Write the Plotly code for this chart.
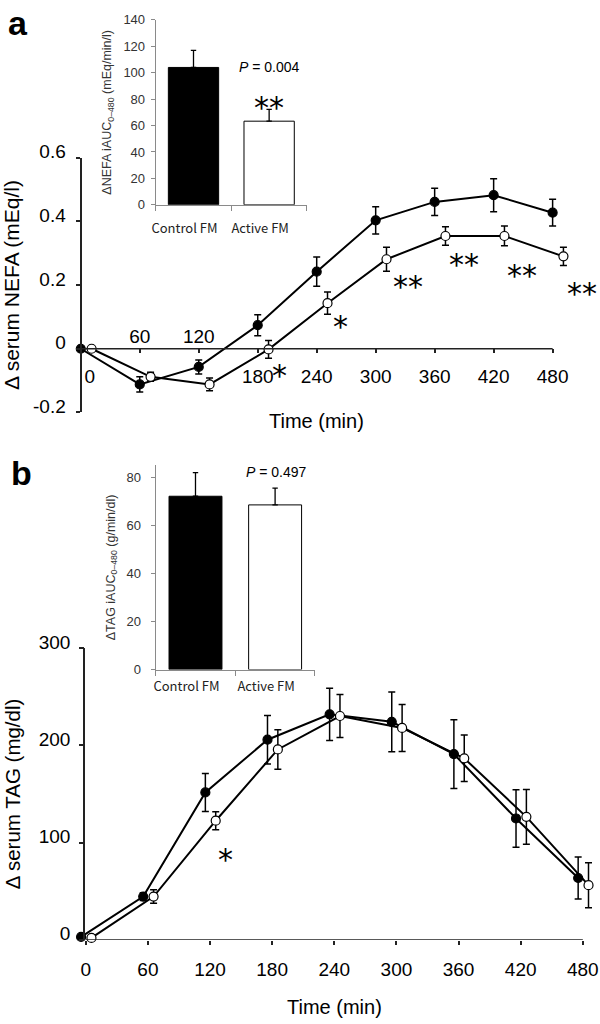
import plotly.graph_objects as go

# ---------------- data ----------------
time_min = [0, 60, 120, 180, 240, 300, 360, 420, 480]
time_labels = ["0", "60", "120", "180", "240", "300", "360", "420", "480"]

nefa_control = [0.0, -0.112, -0.057, 0.074, 0.242, 0.403, 0.461, 0.482, 0.427]
nefa_control_err = [0.0, 0.024, 0.022, 0.033, 0.046, 0.043, 0.043, 0.052, 0.042]
nefa_active = [0.0, -0.088, -0.112, -0.002, 0.143, 0.281, 0.354, 0.354, 0.290]
nefa_active_err = [0.0, 0.014, 0.020, 0.028, 0.035, 0.038, 0.029, 0.031, 0.029]

tag_control = [3, 44.5, 151.6, 205.8, 231.9, 224.2, 191.0, 124.8, 63.6]
tag_control_err = [0, 4, 19.5, 25, 26.8, 30.8, 35.3, 29.5, 21.7]
tag_active = [2, 44.5, 122.5, 195.8, 230.2, 217.9, 186.7, 126.5, 56.2]
tag_active_err = [0, 7, 9.2, 20.3, 22, 24.2, 23.9, 28.2, 23.2]

groups = ["Control FM", "Active FM"]
nefa_auc = [104, 63.3]
nefa_auc_err = [13, 9]
tag_auc = [72.1, 68.5]
tag_auc_err = [9.8, 7]

nefa_sig_x = [137, 202, 264, 333, 390, 449, 510]
nefa_sig_y = [-0.202, -0.061, 0.092, 0.217, 0.286, 0.253, 0.194]
nefa_sig_txt = ["*", "*", "*", "**", "**", "**", "**"]
tag_sig_x = [135]
tag_sig_y = [89.7]
tag_sig_txt = ["*"]

nefa_yticks = [-0.2, 0, 0.2, 0.4, 0.6]
nefa_yticklabels = ["-0.2", "0", "0.2", "0.4", "0.6"]
tag_yticks = [0, 100, 200, 300]

# ---------------- layout helpers ----------------
W, H = 600, 1024


def fx(px):
    return px / W


def fy(py):
    return 1 - py / H


# offsets (minutes) used in the original to separate the two series
off_a_ctrl, off_a_act = 0, 11
off_b_ctrl, off_b_act = -4.5, 5.5

# panel a pixel frame
a_x0, a_x480 = 77.3, 552.3
a_ppm = (a_x480 - a_x0) / 480
a_range = [-a_x0 / a_ppm, (W - a_x0) / a_ppm]
# panel b pixel frame
b_x0, b_x480 = 82.3, 582.7
b_ppm = (b_x480 - b_x0) / 480
b_range = [-b_x0 / b_ppm, (W - b_x0) / b_ppm]

AX = "#222222"
INS = "#8a8a8a"
MAINFONT = "Liberation Sans"

fig = go.Figure()


def line_traces(xs, ys, errs, off, filled, xa, ya):
    fig.add_trace(go.Scatter(
        x=[t + off for t in xs], y=ys, mode="lines+markers",
        xaxis=xa, yaxis=ya, cliponaxis=False, hoverinfo="skip",
        line=dict(color="black", width=2),
        marker=dict(size=9, color="black" if filled else "white",
                    line=dict(color="black", width=1.2)),
        error_y=dict(type="data", array=errs, color="black", thickness=1.5, width=3.5),
        showlegend=False,
    ))


line_traces(time_min, nefa_control, nefa_control_err, off_a_ctrl, True, "x", "y")
line_traces(time_min, nefa_active, nefa_active_err, off_a_act, False, "x", "y")
line_traces(time_min, tag_control, tag_control_err, off_b_ctrl, True, "x3", "y3")
line_traces(time_min, tag_active, tag_active_err, off_b_act, False, "x3", "y3")

for vals, errs, xa, ya in [(nefa_auc, nefa_auc_err, "x2", "y2"), (tag_auc, tag_auc_err, "x4", "y4")]:
    fig.add_trace(go.Bar(
        x=groups, y=vals, xaxis=xa, yaxis=ya, hoverinfo="skip",
        marker=dict(color=["black", "white"], line=dict(color="black", width=1)),
        error_y=dict(type="data", symmetric=False, array=errs, arrayminus=[0, 0],
                     color="black", thickness=1.3, width=2.7),
        showlegend=False,
    ))

# empty traces so the overlay tick/label axes of panel a exist
for xa in ["x5", "x6", "x7"]:
    fig.add_trace(go.Scatter(x=[], y=[], xaxis=xa, yaxis="y", showlegend=False, hoverinfo="skip"))

main_tick_font = dict(family=MAINFONT, size=19, color="black")
ins_tick_font = dict(family="Liberation Sans", size=13, color="#333333")
a_xpos = fy(340)

common_x = dict(showgrid=False, zeroline=False, showline=False, tickmode="array")

fig.update_layout(
    width=W, height=H, margin=dict(l=0, r=0, t=0, b=0),
    paper_bgcolor="white", plot_bgcolor="white", showlegend=False,
    bargap=0.335,
    # ---- panel a main: labelled ticks 180..480 below the zero line
    xaxis=dict(domain=[0, 1], range=a_range, anchor="free", position=a_xpos, **common_x,
               tickvals=time_min[3:], ticktext=time_labels[3:],
               ticks="outside", ticklen=4, tickwidth=1.5, tickcolor=AX,
               tickfont=main_tick_font, ticklabelstandoff=7),
    # 60 / 120 labels above the zero line
    xaxis5=dict(overlaying="x", range=a_range, anchor="free", position=a_xpos, side="top", **common_x,
                tickvals=time_min[1:3], ticktext=time_labels[1:3],
                ticks="", tickfont=main_tick_font, ticklabelstandoff=1),
    # "0" label, shifted right of the y axis
    xaxis6=dict(overlaying="x", range=a_range, anchor="free", position=a_xpos, **common_x,
                tickvals=time_min[:1], ticktext=time_labels[:1],
                ticks="outside", ticklen=4, tickcolor="rgba(0,0,0,0)",
                tickfont=main_tick_font, ticklabelstandoff=7, ticklabelshift=9),
    # unlabelled tick marks at 0, 60, 120
    xaxis7=dict(overlaying="x", range=a_range, anchor="free", position=a_xpos, **common_x,
                tickvals=time_min[:3], showticklabels=False,
                ticks="outside", ticklen=4, tickwidth=1.5, tickcolor=AX),
    yaxis=dict(domain=[fy(406), fy(145)], range=[-0.2, 0.6], anchor="free", position=fx(a_x0),
               showgrid=False, zeroline=False, showline=True, linecolor=AX, linewidth=1.5,
               tickmode="array", tickvals=nefa_yticks, ticktext=nefa_yticklabels,
               ticks="outside", ticklen=4.5, tickwidth=1.5, tickcolor=AX,
               tickfont=main_tick_font, ticklabelstandoff=6, ticklabelshift=-6,
               title=dict(text="Δ serum NEFA (mEq/l)", font=dict(family=MAINFONT, size=21, color="black"),
                          standoff=9)),
    # ---- inset a
    xaxis2=dict(domain=[fx(152.7), fx(305)], anchor="y2", type="category",
                showgrid=False, zeroline=False, showline=True, linecolor=INS, linewidth=1,
                tickson="boundaries", ticks="outside", ticklen=5, tickcolor=INS,
                tickfont=dict(family="Noto Sans CJK JP", size=13, color="#222222"),
                ticklabelstandoff=12, ticklabelshift=-9),
    yaxis2=dict(domain=[fy(193.3), fy(4)], range=[0, 140], anchor="x2", dtick=20,
                showgrid=False, zeroline=False, showline=True, linecolor=INS, linewidth=1,
                ticks="outside", ticklen=4, tickcolor=INS, tickfont=ins_tick_font,
                ticklabelstandoff=3,
                title=dict(text="ΔNEFA iAUC<sub>0–480</sub> (mEq/min/l)",
                           font=dict(family="Liberation Sans", size=12.5, color="#333333"), standoff=8)),
    # ---- panel b main
    xaxis3=dict(domain=[0, 1], range=b_range, anchor="free", position=fy(946), **common_x,
                tickvals=time_min, ticktext=time_labels,
                ticks="outside", ticklen=4, tickwidth=1.5, tickcolor=AX,
                tickfont=main_tick_font, ticklabelstandoff=8),
    yaxis3=dict(domain=[fy(946), fy(647.3)], range=[0, 300], anchor="free", position=fx(81),
                showgrid=False, zeroline=False, showline=True, linecolor=AX, linewidth=1.5,
                tickmode="array", tickvals=tag_yticks,
                ticks="outside", ticklen=4.5, tickwidth=1.5, tickcolor=AX,
                tickfont=main_tick_font, ticklabelstandoff=5, ticklabelshift=-6,
                title=dict(text="Δ serum TAG (mg/dl)", font=dict(family=MAINFONT, size=20.5, color="black"),
                           standoff=12)),
    # ---- inset b
    xaxis4=dict(domain=[fx(152.7), fx(313)], anchor="y4", type="category",
                showgrid=False, zeroline=False, showline=True, linecolor=INS, linewidth=1,
                tickson="boundaries", ticks="outside", ticklen=5, tickcolor=INS,
                tickfont=dict(family="Noto Sans CJK JP", size=13, color="#222222"),
                ticklabelstandoff=5, ticklabelshift=-9),
    yaxis4=dict(domain=[fy(669.3), fy(460)], range=[0, 85], anchor="x4",
                tickmode="array", tickvals=[0, 20, 40, 60, 80],
                showgrid=False, zeroline=False, showline=True, linecolor=INS, linewidth=1,
                ticks="outside", ticklen=4, tickcolor=INS, tickfont=ins_tick_font,
                ticklabelstandoff=7,
                title=dict(text="ΔTAG iAUC<sub>0–480</sub> (g/min/dl)",
                           font=dict(family="Liberation Sans", size=12.5, color="#333333"), standoff=8)),
)

# x-axis lines from 0 to 480 min
fig.add_shape(type="line", xref="x", yref="y", x0=time_min[0], x1=time_min[-1], y0=0, y1=0,
              line=dict(color=AX, width=1.5))
fig.add_shape(type="line", xref="x3", yref="y3", x0=time_min[0], x1=time_min[-1], y0=0, y1=0,
              line=dict(color=AX, width=1.5))

ann = []
star_font = dict(family="DejaVu Sans", size=30, color="black")
C = dict(showarrow=False, xanchor="center", yanchor="middle")
STAR_SHIFT = -7
for x, y, t in zip(nefa_sig_x, nefa_sig_y, nefa_sig_txt):
    ann.append(dict(x=x, y=y, xref="x", yref="y", text=t, font=star_font, yshift=STAR_SHIFT, **C))
for x, y, t in zip(tag_sig_x, tag_sig_y, tag_sig_txt):
    ann.append(dict(x=x, y=y, xref="x3", yref="y3", text=t, font=star_font, yshift=STAR_SHIFT, **C))
ann.append(dict(x=groups[1], y=78.9, xref="x2", yref="y2", text="**", font=star_font, yshift=STAR_SHIFT, **C))
ann.append(dict(x=groups[1], y=104.7, xref="x2", yref="y2", text="<i>P</i> = 0.004",
                font=dict(family="Liberation Sans", size=14, color="black"), **C))
ann.append(dict(x=groups[1], y=82.0, xref="x4", yref="y4", text="<i>P</i> = 0.497",
                font=dict(family="Liberation Sans", size=14, color="black"), xshift=1, **C))
ann.append(dict(x=240, y=fy(415), xref="x", yref="paper", text="Time (min)",
                font=dict(family=MAINFONT, size=20, color="black"), **C))
ann.append(dict(x=240, y=fy(1015), xref="x3", yref="paper", text="Time (min)",
                font=dict(family=MAINFONT, size=20, color="black"), **C))
ann.append(dict(x=fx(14), y=fy(12), xref="paper", yref="paper", text="<b>a</b>",
                font=dict(family="Liberation Sans", size=34, color="black"), yshift=5, **C))
ann.append(dict(x=fx(17.5), y=fy(468), xref="paper", yref="paper", text="<b>b</b>",
                font=dict(family="Liberation Sans", size=34, color="black"), **C))
fig.update_layout(annotations=ann)

fig.write_html("out.html", config={"displayModeBar": False},
               post_script="document.body.style.margin='0';")
